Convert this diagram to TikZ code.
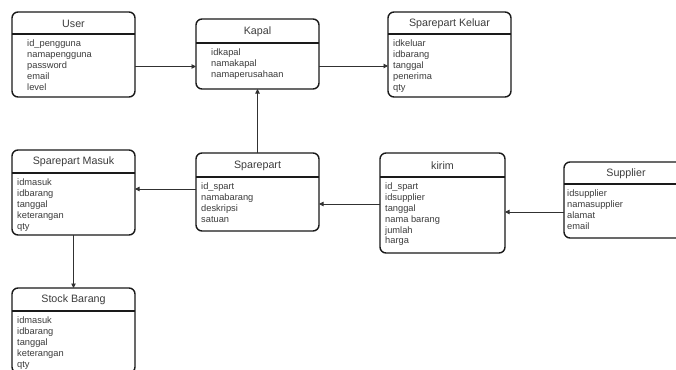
\documentclass[tikz,border=0pt]{standalone}
\usepackage{fontspec}
\setmainfont{Liberation Sans}
\usetikzlibrary{arrows.meta}

\definecolor{ink}{HTML}{1A1A1A}
\definecolor{labelgrey}{HTML}{3C3C3C}

\tikzset{
  entbox/.style={draw=ink, line width=1.4pt, rounded corners=6pt, fill=white,
                 anchor=north west, inner sep=0pt, outer sep=0pt},
  divline/.style={draw=ink, line width=1.3pt},
  enttitle/.style={anchor=center, inner sep=0pt, text=labelgrey,
                   font=\fontsize{10.7}{12}\selectfont},
  entfields/.style={anchor=north west, align=left, inner sep=0pt, text=labelgrey,
                    font=\fontsize{9.3}{10.8}\selectfont},
  link/.style={draw=ink!90, line width=0.9pt,
               -{Triangle[length=4.5pt,width=4.5pt]}}
}

% #1 name, #2 x, #3 y, #4 width, #5 height, #6 divider depth,
% #7 field indent, #8 title, #9 fields
\newcommand{\entity}[9]{%
  \node[entbox, minimum width=#4pt, minimum height=#5pt] (#1) at (#2,#3) {};
  \draw[divline] (#2,#3+#6) -- (#2+#4,#3+#6);
  \node[enttitle] (#1-title) at (#2+#4/2,#3+#6/2+0.5) {#8};
  \node[entfields] (#1-fields) at (#2+#7,#3+#6+6) {#9};
}

\begin{document}
\begin{tikzpicture}[x=1pt,y=-1pt]
  \useasboundingbox (0,0) rectangle (676,369);
  \clip (0,0) rectangle (676,369);
  \fill[white] (0,0) rectangle (676,369);

  \entity{user}{12}{12}{123}{85}{22}{15}{User}
    {id\_pengguna\\namapengguna\\password\\email\\level}
  \entity{kapal}{196}{19}{123}{70}{24}{15}{Kapal}
    {idkapal\\namakapal\\namaperusahaan}
  \entity{keluar}{388}{12}{123}{85}{22}{5}{Sparepart Keluar}
    {idkeluar\\idbarang\\tanggal\\penerima\\qty}
  \entity{masuk}{12}{150}{123}{85}{23}{5}{Sparepart Masuk}
    {idmasuk\\idbarang\\tanggal\\keterangan\\qty}
  \entity{sparepart}{196}{153}{123}{78}{24}{5}{Sparepart}
    {id\_spart\\namabarang\\deskripsi\\satuan}
  \entity{kirim}{380}{153}{125}{100}{24}{5}{kirim}
    {id\_spart\\idsupplier\\tanggal\\nama barang\\jumlah\\harga}
  \entity{supplier}{564}{162}{124}{76}{22}{3}{Supplier}
    {idsupplier\\namasupplier\\alamat\\email}
  \entity{stock}{12}{288}{123}{85}{23}{5}{Stock Barang}
    {idmasuk\\idbarang\\tanggal\\keterangan\\qty}

  % relations
  \draw[link] ([yshift=-12pt]user.east) -- ([yshift=-12pt]user.east -| kapal.west);
  \draw[link] ([yshift=-12pt]kapal.east) -- ([yshift=-12pt]kapal.east -| keluar.west);
  \draw[link] (sparepart.north) -- (kapal.south);
  \draw[link] ([yshift=3pt]sparepart.west) -- ([yshift=3pt]sparepart.west -| masuk.east);
  \draw[link] ([yshift=-1pt]kirim.west) -- ([yshift=-1pt]kirim.west -| sparepart.east);
  \draw[link] ([yshift=-12pt]supplier.west) -- ([yshift=-12pt]supplier.west -| kirim.east);
  \draw[link] (masuk.south) -- (stock.north);
\end{tikzpicture}
\end{document}
